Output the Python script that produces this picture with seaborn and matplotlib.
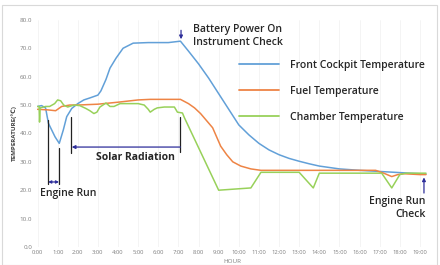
import numpy as np
import pandas as pd
import matplotlib
matplotlib.use('Agg')
import matplotlib.pyplot as plt
import seaborn as sns
from matplotlib.patches import Rectangle

# data (hours, deg C)
t_front = [0, 0.2, 0.4, 0.54, 0.87, 1.08, 1.28, 1.45, 1.7, 2.0, 2.3, 2.6, 3.0, 3.15, 3.4, 3.6, 3.9, 4.25,
           4.75, 5.5, 6.5, 7.1, 7.5, 8.0, 8.5, 9.0, 9.5, 10.0, 10.5, 11.0, 11.5, 12.0, 12.5, 13.0, 13.5,
           14.0, 14.5, 15.0, 16.0, 17.0, 18.0, 19.0, 19.3]
v_front = [49.5, 49.8, 49, 43.6, 38.8, 36.5, 41.2, 45.9, 48.8, 50.5, 51.8, 52.5, 53.5, 55, 59, 63, 66.5, 70,
           71.8, 72, 72, 72.5, 69, 64.5, 59.5, 54, 48.5, 43, 39.5, 36.5, 34.2, 32.5, 31.2, 30.2, 29.3,
           28.5, 28, 27.5, 27, 26.6, 26.2, 25.8, 25.7]

t_fuel = [0, 0.5, 0.9, 1.2, 1.6, 2.0, 3.0, 4.0, 5.0, 5.6, 6.5, 7.1, 7.5, 7.8, 8.1, 8.4, 8.7, 9.1, 9.4,
          9.7, 10.1, 10.6, 11.1, 12.0, 13.0, 14.0, 15.0, 16.0, 16.8, 17.2, 17.6, 17.9, 18.2, 19.0, 19.3]
v_fuel = [48.5, 48.3, 48, 49.5, 50, 50, 50.3, 51, 51.8, 52, 52, 52, 50.5, 49, 47, 44.5, 42, 35.5, 32.5,
          30, 28.5, 27.5, 27, 27, 27, 27, 27, 27, 27, 26, 24.8, 25.5, 25.8, 25.5, 25.5]

t_chamber = [0, 0.08, 0.1, 0.13, 0.4, 0.6, 0.85, 1.0, 1.15, 1.3, 1.5, 1.8, 2.1, 2.4, 2.6, 2.8, 2.95, 3.1,
             3.4, 3.6, 3.8, 4.1, 4.6, 5.0, 5.3, 5.5, 5.6, 5.8, 5.95, 6.3, 6.8, 6.95, 7.2, 7.3, 9.0, 10.6,
             11.1, 13.0, 13.7, 14.0, 17.1, 17.6, 18.0, 18.3, 19.3]
v_chamber = [49.5, 49.5, 44, 49, 49.5, 49.5, 50.5, 51.8, 51.5, 50, 49.3, 50, 49.8, 48.8, 48, 47, 47.5, 49.3,
             50.7, 49.5, 49.5, 50.5, 50.5, 50.5, 50, 48.5, 47.5, 48.5, 49, 49.3, 49.3, 47.5, 47.2, 45.5, 20, 20.8,
             26.3, 26.3, 20.8, 26, 26, 20.8, 25.5, 26, 26]

series = ['Front Cockpit Temperature', 'Fuel Temperature', 'Chamber Temperature']
colors = ['#62a0d8', '#ee8445', '#98d15a']
hour_labels = [f'{h}:00' for h in range(20)]

df = pd.concat([
    pd.DataFrame({'hour': t_front, 'temp': v_front, 'series': series[0]}),
    pd.DataFrame({'hour': t_fuel, 'temp': v_fuel, 'series': series[1]}),
    pd.DataFrame({'hour': t_chamber, 'temp': v_chamber, 'series': series[2]}),
], ignore_index=True)

sns.set_theme(style='white')
plt.rcParams['font.family'] = ['Open Sans', 'DejaVu Sans']

fig = plt.figure(figsize=(4.4, 2.65), dpi=100)
ax = fig.add_axes([0.083, 0.068, 0.892, 0.857])
fig.patches.append(Rectangle((0.004, 0.0), 0.99, 0.982, transform=fig.transFigure,
                             fill=False, edgecolor='#d9d9d9', linewidth=0.8))

sns.lineplot(data=df, x='hour', y='temp', hue='series', hue_order=series,
             palette=dict(zip(series, colors)), sort=False, estimator=None,
             linewidth=1.1, ax=ax)

ax.set_xlim(-0.05, 19.45)
ax.set_ylim(0, 80)
ax.set_xticks(range(20))
ax.set_xticklabels(hour_labels)
ax.set_yticks(np.arange(0, 81, 10))
ax.set_yticklabels([f'{v:.1f}' for v in np.arange(0, 81, 10)])
ax.tick_params(axis='x', labelsize=4.2, colors='#808080', pad=2, length=0)
ax.tick_params(axis='y', labelsize=4.5, colors='#808080', pad=3, length=0)
ax.set_xlabel('HOUR', fontsize=4.5, color='#808080', labelpad=3)
ax.set_ylabel('TEMPERATURE(℃)', fontsize=4.5, fontweight='bold', color='#404040', labelpad=2)
ax.grid(axis='x', color='#f3f3f3', linewidth=0.6)
sns.despine(ax=ax, left=True, bottom=True)

leg = ax.legend(loc='upper left', bbox_to_anchor=(0.492, 0.865), frameon=False,
                fontsize=7.5, handlelength=3.8, handletextpad=1.1, labelspacing=1.45)
for txt in leg.get_texts():
    txt.set_fontweight('semibold')
    txt.set_color('#262626')
for ln in leg.get_lines():
    ln.set_linewidth(1.3)

navy = '#2e2e9a'
txtkw = dict(fontsize=7.5, fontweight='semibold', color='#262626')

# battery power on
ax.text(7.72, 78.4, 'Battery Power On\nInstrument Check', ha='left', va='top', linespacing=1.15, **txtkw)
ax.annotate('', xy=(7.13, 72.2), xytext=(7.13, 77.3),
            arrowprops=dict(arrowstyle='-|>', color=navy, lw=0.9, mutation_scale=5))

# engine run
ax.plot([0.53, 0.53], [44.7, 22.3], color='#222222', lw=0.9)
ax.plot([1.07, 1.07], [35.0, 22.3], color='#222222', lw=0.9)
ax.annotate('', xy=(0.53, 22.9), xytext=(1.07, 22.9),
            arrowprops=dict(arrowstyle='<|-|>', color=navy, lw=0.9, mutation_scale=4,
                            shrinkA=0, shrinkB=0))
ax.text(0.12, 19.0, 'Engine Run', ha='left', va='center', **txtkw)

# solar radiation
ax.plot([1.65, 1.65], [45.8, 33.0], color='#222222', lw=0.9)
ax.plot([7.1, 7.1], [45.8, 33.4], color='#222222', lw=0.9)
ax.annotate('', xy=(1.7, 35.2), xytext=(7.1, 35.2),
            arrowprops=dict(arrowstyle='-|>', color=navy, lw=0.9, mutation_scale=5,
                            shrinkA=0, shrinkB=0))
ax.text(4.85, 31.6, 'Solar Radiation', ha='center', va='center', fontsize=7.5,
        fontweight='bold', color='#262626')

# engine run check
ax.annotate('', xy=(19.2, 24.5), xytext=(19.2, 19.0),
            arrowprops=dict(arrowstyle='-|>', color=navy, lw=0.9, mutation_scale=5,
                            shrinkA=0, shrinkB=0))
ax.text(19.27, 17.8, 'Engine Run\nCheck', ha='right', va='top', multialignment='right',
        linespacing=1.15, **txtkw)

fig.savefig('out.png', dpi=100)
